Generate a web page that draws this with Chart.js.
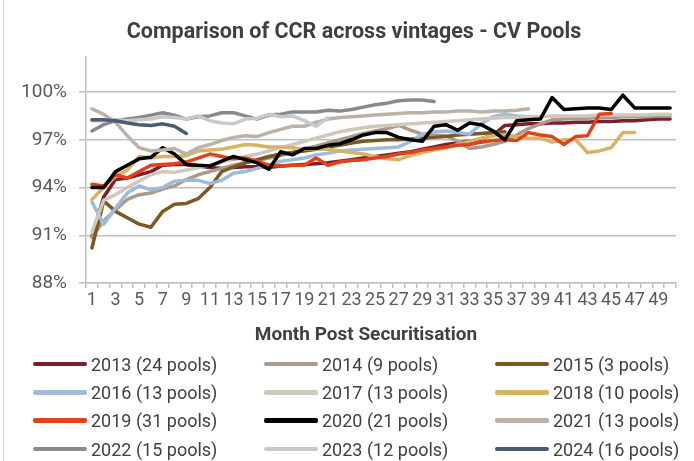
<!DOCTYPE html>
<html>
<head>
<meta charset="utf-8">
<script src="https://cdn.jsdelivr.net/npm/chart.js@4"></script>
<style>
  body { margin: 0; background: #fff; width: 694px; height: 461px; overflow: hidden; position: relative; font-family: Roboto, sans-serif; }
  #wrap { position: absolute; left: 0; top: 0; width: 694px; height: 345px; }
  .frame { position: absolute; left: 3px; top: 0; width: 1px; height: 461px; background: #d9d9d9; }
  .title { position: absolute; left: 54px; width: 600px; top: 18px; height: 26px; line-height: 26px; text-align: center; font-weight: bold; font-size: 21.5px; color: #404040; }
  .xtitle { position: absolute; left: 166px; width: 400px; top: 322px; height: 24px; line-height: 24px; text-align: center; font-weight: bold; font-size: 19px; color: #404040; }
  #legend { position: absolute; left: 33px; top: 350px; display: grid; grid-template-columns: 231px 231px 200px; grid-auto-rows: 28.3px; }
  .item { display: flex; align-items: center; font-size: 18px; color: #404040; white-space: nowrap; }
  .swatch { width: 54px; height: 4.5px; border-radius: 2px; margin-right: 4px; }
</style>
</head>
<body>
<div class="frame"></div>
<div id="wrap"><canvas id="chart" width="694" height="345"></canvas></div>
<div class="title">Comparison of CCR across vintages - CV Pools</div>
<div class="xtitle">Month Post Securitisation</div>
<div id="legend"></div>
<script>
const months = ["1","2","3","4","5","6","7","8","9","10","11","12","13","14","15","16","17","18","19","20",
  "21","22","23","24","25","26","27","28","29","30","31","32","33","34","35","36","37","38","39","40",
  "41","42","43","44","45","46","47","48","49","50"];

const names = ["2013 (24 pools)", "2014 (9 pools)", "2015 (3 pools)",
  "2016 (13 pools)", "2017 (13 pools)", "2018 (10 pools)",
  "2019 (31 pools)", "2020 (21 pools)", "2021 (13 pools)",
  "2022 (15 pools)", "2023 (12 pools)", "2024 (16 pools)"];

const colors = ["#7b1f2e", "#a89b8c", "#7a5a22",
  "#9dbcd9", "#cfc9bc", "#d9b364",
  "#e0421c", "#000000", "#bdb2a6",
  "#8a8a8a", "#c9c9c9", "#4a5b73"];

// CCR in %, by month post securitisation
const v2013 = [90.9, 93.4, 94.5, 94.6, 94.8, 95.0, 95.4, 95.45, 95.45, 95.35, 95.25, 95.2, 95.25, 95.3, 95.3, 95.25, 95.35, 95.4, 95.45, 95.5,
  95.55, 95.65, 95.75, 95.85, 95.95, 96.05, 96.15, 96.25, 96.4, 96.55, 96.7, 96.8, 96.9, 97.05, 97.3, 97.9, 97.95, 98.0, 98.0, 98.05,
  98.05, 98.1, 98.1, 98.15, 98.15, 98.2, 98.2, 98.25, 98.3, 98.3];
const v2014 = [90.9, 91.9, 92.6, 93.25, 93.55, 93.65, 93.9, 94.1, 94.5, 94.8, 95.0, 95.2, 95.4, 95.55, 95.7, 95.85, 96.0, 96.2, 96.4, 96.6,
  96.8, 97.0, 97.2, 97.4, 97.55, 97.7, 97.9, 97.6, 97.35, 97.3, 97.25, 96.9, 96.45, 96.55, 96.7, 96.9, 97.3, 97.7, 98.0, 98.25,
  98.3, 98.35, 98.35, 98.4, 98.4, 98.45, 98.45, 98.45, 98.5, 98.5];
const v2015 = [90.2, 93.15, 92.5, 92.1, 91.7, 91.5, 92.5, 92.95, 93.0, 93.3, 94.0, 95.0, 95.3, 95.55, 95.75, 95.95, 96.1, 96.2, 96.3, 96.4,
  96.55, 96.65, 96.8, 96.9, 96.95, 97.0, 97.0, 97.05, 97.1, 97.15, 97.2, 97.3, 97.35, 97.4, 97.45, 97.5];
const v2016 = [93.1, 91.7, 92.7, 93.65, 94.1, 93.85, 94.0, 94.4, 94.45, 94.45, 94.25, 94.45, 94.9, 95.0, 95.2, 95.4, 95.65, 95.75, 95.85, 96.05,
  96.15, 96.3, 96.35, 96.4, 96.45, 96.5, 96.55, 96.9, 97.35, 97.5, 97.55, 97.45, 97.35, 98.0, 98.45, 98.6, 98.5, 98.45, 98.4];
const v2017 = [91.2, 93.2, 93.55, 94.0, 94.4, 94.8, 95.0, 94.95, 95.1, 95.25, 95.4, 95.6, 95.8, 95.95, 96.1, 96.3, 96.5, 96.7, 96.9, 97.1,
  97.3, 97.5, 97.65, 97.75, 97.85, 97.9, 97.95, 98.0, 98.05, 98.1, 98.15, 98.2, 98.25, 98.3, 98.35, 98.4, 98.4, 98.45, 98.45, 98.5,
  98.5, 98.5, 98.5, 98.55, 98.55, 98.55, 98.55, 98.55, 98.6, 98.6];
const v2018 = [93.25, 94.0, 94.7, 95.1, 95.95, 95.85, 95.95, 95.95, 96.0, 96.3, 96.35, 96.4, 96.55, 96.7, 96.65, 96.55, 96.55, 96.5, 96.4, 96.4,
  96.4, 96.3, 96.2, 96.1, 95.95, 95.8, 95.75, 96.0, 96.2, 96.35, 96.5, 96.7, 96.9, 97.1, 97.25, 97.3, 97.2, 97.1, 97.1, 96.85,
  97.0, 97.0, 96.2, 96.3, 96.5, 97.45, 97.45];
const v2019 = [94.2, 94.1, 94.8, 94.6, 95.0, 95.4, 95.45, 95.5, 95.6, 95.85, 96.1, 95.95, 95.8, 95.85, 95.65, 95.4, 95.35, 95.4, 95.4, 95.85,
  95.4, 95.6, 95.7, 95.75, 95.85, 95.95, 96.1, 96.2, 96.35, 96.45, 96.55, 96.65, 96.7, 96.85, 96.95, 97.0, 96.95, 97.45, 97.3, 97.2,
  96.7, 97.2, 97.25, 98.6, 98.65];
const v2020 = [94.0, 94.0, 95.0, 95.4, 95.8, 95.9, 96.5, 96.1, 95.45, 95.4, 95.35, 95.65, 95.95, 95.75, 95.55, 95.15, 96.25, 96.05, 96.45, 96.45,
  96.65, 96.75, 97.0, 97.3, 97.45, 97.45, 97.15, 97.0, 96.9, 97.85, 97.95, 97.6, 98.05, 97.95, 97.55, 97.0, 98.2, 98.25, 98.3, 99.65,
  98.9, 98.95, 99.0, 99.0, 98.9, 99.8, 99.0, 99.0, 99.0, 99.0];
const v2021 = [98.95, 98.6, 98.1, 97.25, 96.5, 96.3, 96.35, 96.45, 96.1, 96.5, 96.7, 96.95, 97.15, 97.25, 97.2, 97.45, 97.65, 97.85, 97.85, 98.1,
  98.3, 98.4, 98.45, 98.5, 98.55, 98.6, 98.65, 98.7, 98.7, 98.75, 98.75, 98.8, 98.8, 98.75, 98.8, 98.8, 98.85, 98.95];
const v2022 = [97.55, 97.95, 98.2, 98.3, 98.4, 98.55, 98.7, 98.55, 98.3, 98.45, 98.5, 98.7, 98.7, 98.5, 98.3, 98.55, 98.6, 98.75, 98.75, 98.75,
  98.85, 98.8, 98.9, 99.05, 99.2, 99.3, 99.45, 99.5, 99.5, 99.4];
const v2023 = [98.2, 98.2, 98.25, 98.2, 98.25, 98.3, 98.45, 98.4, 98.3, 98.5, 98.2, 98.05, 98.0, 98.3, 98.35, 98.6, 98.45, 98.5, 98.2, 97.85,
  98.4];
const v2024 = [98.25, 98.25, 98.2, 98.05, 97.95, 97.9, 98.0, 97.85, 97.4];

const series = [v2013, v2014, v2015, v2016, v2017, v2018, v2019, v2020, v2021, v2022, v2023, v2024];

const yTicks = [88, 91, 94, 97, 100];

const font = "Roboto, 'Liberation Sans', sans-serif";

var datasets = series.map(function (data, i) {
  return {
    label: names[i],
    data: data,
    borderColor: colors[i],
    backgroundColor: colors[i],
    fill: false,
    order: series.length - i,
  };
});

var ctx = document.getElementById("chart").getContext("2d");
var myChart = new Chart(ctx, {
  type: "line",
  data: {
    labels: months,
    datasets: datasets,
  },
  options: {
    responsive: false,
    animation: false,
    layout: { padding: { left: 0, right: 18, top: 57, bottom: 0 } },
    elements: {
      point: { radius: 0, hoverRadius: 0 },
      line: { borderWidth: 3.5, tension: 0, borderJoinStyle: "round", borderCapStyle: "round" },
    },
    plugins: {
      legend: { display: false },
      tooltip: { enabled: false },
      title: { display: false },
    },
    scales: {
      x: {
        offset: true,
        grid: { offset: true, drawOnChartArea: false, drawTicks: true, tickLength: 5, color: "#bfbfbf", lineWidth: 1.5 },
        border: { color: "#bfbfbf", width: 1.5 },
        ticks: {
          autoSkip: false,
          maxRotation: 0,
          minRotation: 0,
          padding: 2,
          color: "#595959",
          font: { family: font, size: 18 },
          callback: function (value, index) {
            return index % 2 === 0 ? this.getLabelForValue(value) : "";
          },
        },
        afterFit: function (scale) { scale.height = 62; },
      },
      y: {
        min: 88,
        max: 102.2,
        grid: { color: "#bfbfbf", lineWidth: 1.5, tickLength: 7 },
        border: { color: "#bfbfbf", width: 1.5 },
        ticks: {
          stepSize: 3,
          padding: 12,
          color: "#595959",
          font: { family: font, size: 19 },
          callback: function (value) { return value + "%"; },
        },
        afterBuildTicks: function (scale) {
          scale.ticks = yTicks.map(function (v) { return { value: v }; });
        },
        afterFit: function (scale) { scale.width = 86; },
      },
    },
  },
});

// legend in three columns
var legend = document.getElementById("legend");
names.forEach(function (name, i) {
  var item = document.createElement("div");
  item.className = "item";
  var sw = document.createElement("span");
  sw.className = "swatch";
  sw.style.background = colors[i];
  item.appendChild(sw);
  item.appendChild(document.createTextNode(name));
  legend.appendChild(item);
});
</script>
</body>
</html>
